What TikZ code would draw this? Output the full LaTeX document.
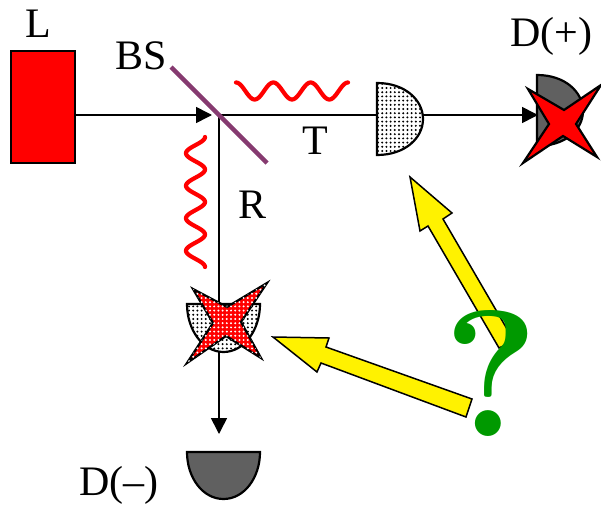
\documentclass[tikz,border=0pt]{standalone}
\usepackage{fontspec}
\setmainfont{Liberation Serif}
\newfontfamily\qfont{Latin Modern Roman}
\usetikzlibrary{arrows.meta,patterns}
\definecolor{bsc}{HTML}{863A70}
\definecolor{qgreen}{HTML}{009900}
\definecolor{dgray}{HTML}{606060}
\pgfdeclarepatternformonly{gdots}{\pgfqpoint{-1.2pt}{-1.2pt}}{\pgfqpoint{1.2pt}{1.2pt}}{\pgfqpoint{4.2pt}{4.2pt}}{\pgfpathcircle{\pgfqpoint{0pt}{0pt}}{1.1pt}\pgfusepath{fill}}
\tikzset{
 lab/.style={font=\fontsize{42}{42}\selectfont,inner sep=0pt,anchor=base,text=black},
 beam/.style={draw=black,line width=1.6pt},
 ray/.style={beam,-{Triangle[length=16pt,width=16pt]}},
 outl/.style={draw=black,line width=2.2pt,line join=miter},
 dots/.style={postaction={pattern=gdots,pattern color=#1}},
 wav/.style={draw=red,line width=4.2pt,line cap=round},
 yarrow/.style={draw=black,fill=yellow,line width=1.5pt,line join=miter},
}
\begin{document}
\begin{tikzpicture}[x=1pt,y=-1pt]
\useasboundingbox (0,0) rectangle (601,508);
% named points
\coordinate (split) at (219,115);
\coordinate (bsA) at (171,67);
\coordinate (bsB) at (267,163);
\coordinate (tipL) at (212,115);
\coordinate (tipP) at (538,115);
\coordinate (tipM) at (219,434);
% source
\node[outl,fill=red,minimum width=64pt,minimum height=112pt,inner sep=0pt,outer sep=0pt,anchor=north west] (src) at (11,51) {};
% beams
\draw[ray] (src.east |- tipL) -- (tipL);
\draw[ray] (split) -- (tipP);
\draw[ray] (split) -- (tipM);
% beam splitter
\draw[draw=bsc,line width=4.5pt] (bsA) -- (bsB);
% waves
\draw[wav] plot[domain=0:1080,samples=109,smooth] ({236+\x/1080*112},{91-8.5*cos(\x)});
\draw[wav] plot[domain=0:1440,samples=145,smooth] ({195.5+9.5*cos(\x)},{137+\x/1440*130});
% detector T
\path[outl,fill=white,dots=black] (377,83) .. controls (405,83) and (423,100) .. (423,119) .. controls (423,138) and (405,155) .. (377,155) -- cycle;
% detector D(+)
\path[outl,fill=dgray] (537,75) .. controls (565,75) and (583,92) .. (583,111) .. controls (583,130) and (565,146) .. (537,146) -- cycle;
\path[outl,fill=red] (528,89) -- (564,110) -- (601,85) -- (576,124) -- (597,157) -- (563,136) -- (523,163) -- (549,124) -- cycle;
% lower detector
\path[outl,fill=white,dots=black] (187,304) -- (260,304) .. controls (260,330) and (244,352) .. (223.5,352) .. controls (203,352) and (187,330) .. (187,304) -- cycle;
\path[outl,fill=red,dots=white] (193,289) -- (227,307) -- (267,283) -- (241,322) -- (261,358) -- (226,336) -- (187,363) -- (213,323) -- cycle;
% detector D(-)
\path[outl,fill=dgray] (187,452) -- (260,452) .. controls (260,478) and (244,499) .. (223.5,499) .. controls (203,499) and (187,478) .. (187,452) -- cycle;
% yellow arrows
\path[yarrow] (499,348) -- (428,226) -- (420,231) -- (410,177) -- (452,213) -- (443,219) -- (514,341) -- cycle;
\path[yarrow] (466,417) -- (321,363) -- (317,372) -- (273,337) -- (329,338) -- (326,347) -- (472,399) -- cycle;
% labels
\node[lab] (lL) at (38,38) {L};
\node[lab] (lBS) at (141,70) {BS};
\node[lab] (lT) at (315,154) {T};
\node[lab] (lR) at (253,218) {R};
\node[lab] (lDp) at (551,47) {D(+)};
\node[lab] (lDm) at (119,495) {D(–)};
\node[inner sep=0pt,anchor=base,text=qgreen,font=\fontsize{180}{180}\selectfont\qfont\bfseries] (q) at (491,436) {?};
\end{tikzpicture}
\end{document}
